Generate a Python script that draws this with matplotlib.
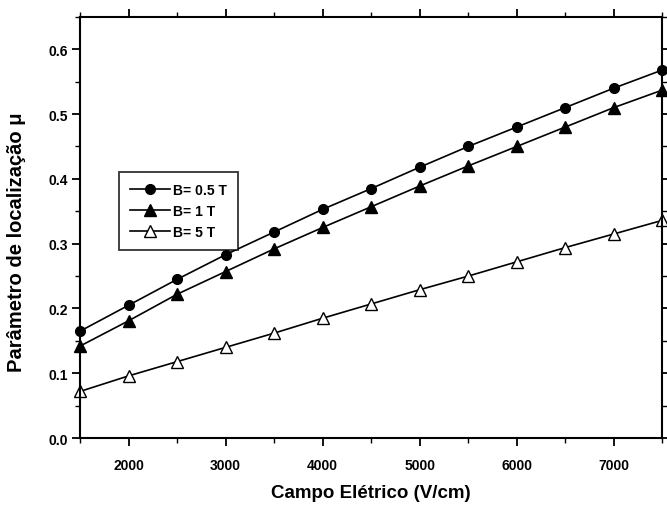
import matplotlib
matplotlib.use("Agg")
import matplotlib.pyplot as plt
from matplotlib.ticker import MultipleLocator

# Electric field values (V/cm)
campo = [1500, 2000, 2500, 3000, 3500, 4000, 4500, 5000, 5500, 6000, 6500, 7000, 7500]

# Localization parameter for each magnetic field
mu_05T = [0.165, 0.205, 0.245, 0.283, 0.318, 0.353, 0.385, 0.418, 0.450, 0.480, 0.510, 0.540, 0.568]
mu_1T = [0.142, 0.181, 0.222, 0.257, 0.292, 0.325, 0.357, 0.389, 0.420, 0.450, 0.480, 0.510, 0.537]
mu_5T = [0.072, 0.096, 0.118, 0.140, 0.162, 0.185, 0.207, 0.229, 0.250, 0.272, 0.294, 0.315, 0.336]

plt.rcParams['font.family'] = ['Liberation Sans', 'DejaVu Sans']

fig = plt.figure(figsize=(6.67, 5.10), dpi=100)
ax = fig.add_axes([0.120, 0.139, 0.873, 0.826])

ax.plot(campo, mu_05T, '-o', color='black', lw=1.2, ms=7, label='B= 0.5 T', clip_on=False)
ax.plot(campo, mu_1T, '-^', color='black', lw=1.2, ms=8, label='B= 1 T', clip_on=False)
ax.plot(campo, mu_5T, '-^', color='black', lw=1.2, ms=8, mfc='white', label='B= 5 T', clip_on=False)

ax.set_xlim(1500, 7500)
ax.set_ylim(0, 0.65)
ax.xaxis.set_minor_locator(MultipleLocator(500))
ax.yaxis.set_major_locator(MultipleLocator(0.1))
ax.yaxis.set_minor_locator(MultipleLocator(0.05))
ax.set_xticks([2000, 3000, 4000, 5000, 6000, 7000])
ax.yaxis.set_major_formatter(plt.FormatStrFormatter('%.1f'))

ax.tick_params(which='both', direction='out', top=True, right=True, labelsize=10)
ax.tick_params(which='major', length=6, width=1.3)
ax.tick_params(which='minor', length=3.5, width=1.0)
ax.tick_params(axis='x', pad=8)
ax.tick_params(axis='y', pad=3)
for lbl in ax.get_xticklabels() + ax.get_yticklabels():
    lbl.set_fontweight('bold')
for sp in ax.spines.values():
    sp.set_linewidth(1.5)

ax.set_xlabel('Campo Elétrico (V/cm)', fontsize=13.5, fontweight='bold', labelpad=9)
ax.set_ylabel('Parâmetro de localização μ', fontsize=14.5, fontweight='bold')
ax.yaxis.set_label_coords(-0.092, 0.468)

leg = ax.legend(loc='upper left', bbox_to_anchor=(0.067, 0.632), fontsize=10,
                frameon=True, fancybox=False, edgecolor='black',
                handlelength=2.9, handletextpad=0.2, borderpad=0.8, labelspacing=0.5,
                borderaxespad=0)
leg.get_frame().set_linewidth(1.3)
for t in leg.get_texts():
    t.set_fontweight('bold')

fig.savefig('out.png', dpi=100)
